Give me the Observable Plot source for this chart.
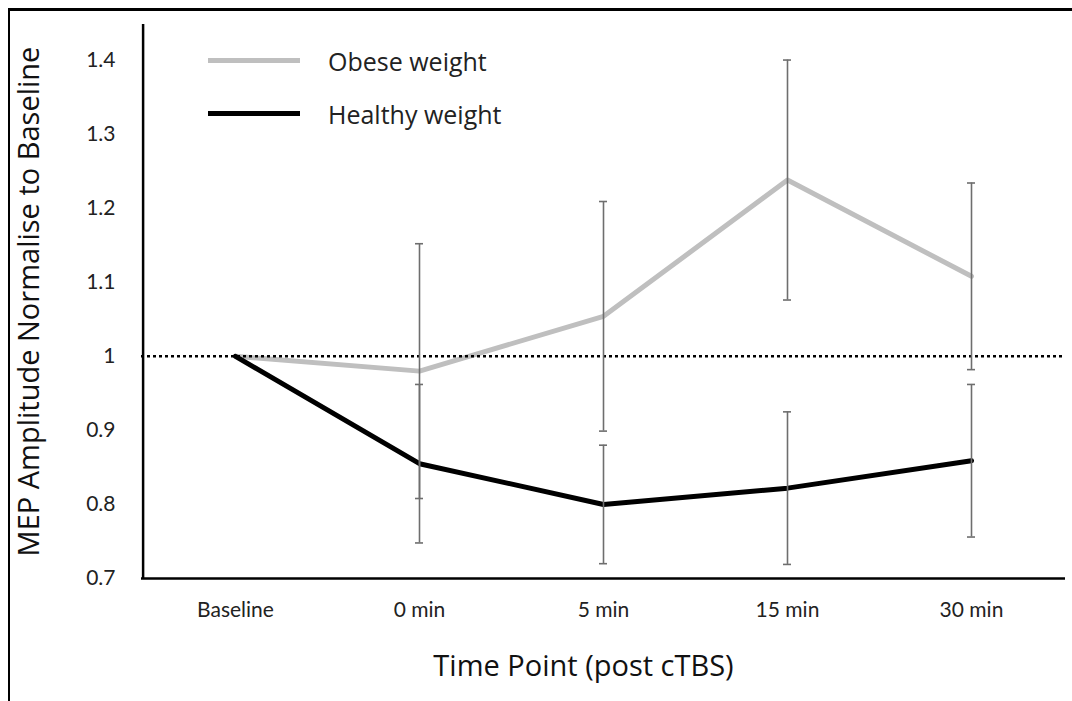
<!DOCTYPE html>
<html>
<head>
<meta charset="utf-8">
<script src="https://cdn.jsdelivr.net/npm/d3@7"></script>
<script src="https://cdn.jsdelivr.net/npm/@observablehq/plot@0.6"></script>
<style>
  html, body { margin: 0; padding: 0; background: #fff; }
  #wrap { position: relative; width: 1072px; height: 701px; overflow: hidden; }
  #border { position: absolute; left: 8px; top: 8px; right: -10px; bottom: -10px;
            border-top: 3px solid #000; border-left: 2.5px solid #000; pointer-events: none; }
  #legend { position: absolute; left: 208px; top: 34px; font-family: "Open Sans", sans-serif;
            font-size: 25px; color: #222; }
  .item { display: flex; align-items: center; height: 53px; }
  .swatch { width: 92px; height: 5px; margin-right: 28px; }
</style>
</head>
<body>
<div id="wrap">
  <div id="chart"></div>
  <div id="border"></div>
  <div id="legend"></div>
</div>
<script>
const timePoints = ["Baseline", "0 min", "5 min", "15 min", "30 min"];
const seriesNames = ["Obese weight", "Healthy weight"];
const obeseMean = [1.0, 0.98, 1.054, 1.238, 1.108];
const obeseErr  = [0, 0.172, 0.155, 0.162, 0.126];
const healthyMean = [1.0, 0.855, 0.80, 0.822, 0.859];
const healthyErr  = [0, 0.107, 0.08, 0.103, 0.103];
const seriesColors = ["#bfbfbf", "#000000"];
const yTicks = [0.7, 0.8, 0.9, 1.0, 1.1, 1.2, 1.3, 1.4];

const rows = [];
timePoints.forEach((t, i) => {
  rows.push({time: t, series: seriesNames[0], mean: obeseMean[i], err: obeseErr[i]});
  rows.push({time: t, series: seriesNames[1], mean: healthyMean[i], err: healthyErr[i]});
});
const errRows = rows.filter(d => d.err > 0);

const chart = Plot.plot({
  width: 1072,
  height: 701,
  marginLeft: 141,
  marginRight: 7,
  marginTop: 24,
  marginBottom: 123,
  style: {fontFamily: "Lato, sans-serif", fontSize: "21px", color: "#222", background: "#fff"},
  x: {type: "band", domain: timePoints, padding: 0, label: null, tickSize: 0, tickPadding: 24},
  y: {domain: [0.7, 1.448], ticks: yTicks, tickFormat: d => d3.format("")(+d.toFixed(1)), label: null, tickSize: 0, tickPadding: 26},
  color: {domain: seriesNames, range: seriesColors},
  marks: [
    Plot.line(rows, {x: "time", y: "mean", z: "series", stroke: "series", strokeWidth: 5}),
    Plot.ruleY([1], {stroke: "#000", strokeWidth: 2.5, strokeDasharray: "3,3"}),
    Plot.ruleX(errRows, {x: "time", y1: d => d.mean - d.err, y2: d => d.mean + d.err, stroke: "#6e6e6e", strokeWidth: 1.6}),
    Plot.tickY(errRows, {x: "time", y: d => d.mean - d.err, stroke: "#6e6e6e", strokeWidth: 1.6, insetLeft: 88, insetRight: 88}),
    Plot.tickY(errRows, {x: "time", y: d => d.mean + d.err, stroke: "#6e6e6e", strokeWidth: 1.6, insetLeft: 88, insetRight: 88}),
    Plot.ruleY([0.7], {stroke: "#000", strokeWidth: 2.5}),
    Plot.ruleX([0], {x: () => timePoints[0], stroke: "#000", strokeWidth: 2.5, dx: -92.4}),
    Plot.text(["MEP Amplitude Normalise to Baseline"], {frameAnchor: "left", textAnchor: "middle", rotate: -90, dx: -112, dy: 0,
      fontFamily: "Open Sans, sans-serif", fontSize: 29, fill: "#111"}),
    Plot.text(["Time Point (post cTBS)"], {frameAnchor: "bottom", textAnchor: "middle", dx: -20, dy: 97,
      fontFamily: "Open Sans, sans-serif", fontSize: 29, fill: "#111"})
  ]
});
document.getElementById("chart").appendChild(chart);

const legend = document.getElementById("legend");
seriesNames.forEach((name, i) => {
  const item = document.createElement("div");
  item.className = "item";
  const sw = document.createElement("div");
  sw.className = "swatch";
  sw.style.background = seriesColors[i];
  const label = document.createElement("span");
  label.textContent = name;
  item.appendChild(sw);
  item.appendChild(label);
  legend.appendChild(item);
});
</script>
</body>
</html>
